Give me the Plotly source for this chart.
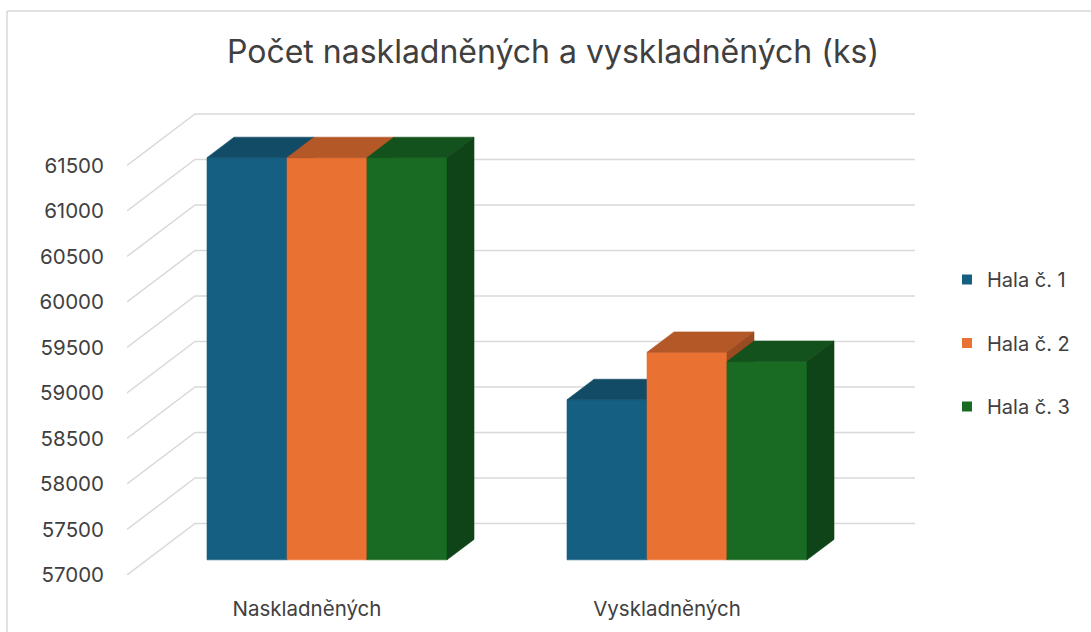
import plotly.graph_objects as go

# ---------------- data ----------------
categories = ["Naskladněných", "Vyskladněných"]
series_names = ["Hala č. 1", "Hala č. 2", "Hala č. 3"]
hala1 = [61420, 58760]
hala2 = [61420, 59280]
hala3 = [61420, 59180]
y_ticks = [57000, 57500, 58000, 58500, 59000, 59500, 60000, 60500, 61000, 61500]
title_text = "Počet naskladněných a vyskladněných (ks)"

values = [hala1, hala2, hala3]
front_cols = ["#156082", "#E97132", "#196B24"]
top_cols = ["#124B65", "#B45828", "#13521C"]
side_cols = ["#0F3E54", "#9B4B22", "#0F4318"]

# ---------------- geometry ----------------
W, H = 1091, 632
L, R, T, B = 127, 915, 106, 575          # plot area in pixels
PX_X = 360.0                              # pixels per category unit
PX_Y = 0.0910                             # pixels per value unit
DXW = 68 / PX_X                           # wall depth offset (x units)
DYW = 51.5 / PX_Y                         # wall depth offset (value units)
YMIN = y_ticks[0]
YMAX = YMIN + (B - T) / PX_Y
XMIN, XMAX = -0.5, len(categories) - 0.5 + DXW

d_front, d_back = 20 / 68, 47 / 68        # bar depth positions (0=front, 1=wall)
group_w = 240 / PX_X
bar_w = group_w / len(series_names)

fig = go.Figure()

# gridlines: diagonal on the left side + horizontal on back wall
gx, gy = [], []
for v in y_ticks:
    gx += [XMIN, XMIN + DXW, XMAX, None]
    gy += [v, v + DYW, v + DYW, None]
fig.add_trace(go.Scatter(x=gx, y=gy, mode="lines", line=dict(color="#D9D9D9", width=1.5),
                         hoverinfo="skip", showlegend=False))

fdx, fdy = d_front * DXW, d_front * DYW
bdx, bdy = d_back * DXW, d_back * DYW

def poly(xs, ys, color):
    fig.add_trace(go.Scatter(x=xs + [xs[0]], y=ys + [ys[0]], mode="lines", fill="toself",
                             fillcolor=color, line=dict(color=color, width=0.6),
                             hoverinfo="skip", showlegend=False))

for ci, cat in enumerate(categories):
    for si in range(len(series_names)):
        v = values[si][ci]
        xl = ci - group_w / 2 + si * bar_w
        xr = xl + bar_w
        # front
        poly([xl + fdx, xr + fdx, xr + fdx, xl + fdx],
             [YMIN + fdy, YMIN + fdy, v + fdy, v + fdy], front_cols[si])
        # top
        poly([xl + fdx, xr + fdx, xr + bdx, xl + bdx],
             [v + fdy, v + fdy, v + bdy, v + bdy], top_cols[si])
        # side
        poly([xr + fdx, xr + fdx, xr + bdx, xr + bdx],
             [YMIN + fdy, v + fdy, v + bdy, YMIN + bdy], side_cols[si])

# legend entries
for si, name in enumerate(series_names):
    fig.add_trace(go.Scatter(x=[None], y=[None], mode="markers", name=name,
                             legendgroup=name,
                             marker=dict(symbol="square", size=10, color=front_cols[si])))

FONT = "Inter"
TXT = "#404040"

def px2paper_x(px):
    return (px - L) / (R - L)

def px2paper_y(py):
    return (B - py) / (B - T)

fig.update_layout(
    width=W, height=H,
    margin=dict(l=L, r=W - R, t=T, b=H - B),
    paper_bgcolor="white", plot_bgcolor="white",
    font=dict(family=FONT, color=TXT, size=20),
    title=dict(text=title_text, x=553 / W, xref="container", xanchor="center",
               y=1 - 52 / H, yanchor="middle", yref="container",
               font=dict(family=FONT, size=32, color=TXT)),
    xaxis=dict(range=[XMIN, XMAX], tickvals=list(range(len(categories))), ticktext=categories,
               showgrid=False, zeroline=False, showline=False, ticks="",
               ticklabelstandoff=19, tickfont=dict(size=20.5, color=TXT), fixedrange=True),
    yaxis=dict(range=[YMIN, YMAX], tickvals=y_ticks, ticktext=[str(t) for t in y_ticks],
               showgrid=False, zeroline=False, showline=False, ticks="",
               ticklabelstandoff=22, tickfont=dict(size=20.5, color=TXT), fixedrange=True),
    legend=dict(x=px2paper_x(947), xanchor="left", y=px2paper_y(260), yanchor="top",
                font=dict(size=20, color=TXT), tracegroupgap=34.5, bgcolor="rgba(0,0,0,0)"),
    shapes=[
        dict(type="line", xref="paper", yref="paper",
             x0=px2paper_x(7), x1=px2paper_x(1091), y0=px2paper_y(11), y1=px2paper_y(11),
             line=dict(color="#D9D9D9", width=1.5)),
        dict(type="line", xref="paper", yref="paper",
             x0=px2paper_x(7), x1=px2paper_x(7), y0=px2paper_y(11), y1=px2paper_y(640),
             line=dict(color="#D9D9D9", width=1.5)),
    ],
    showlegend=True,
)

fig.write_html("out.html", config={"displayModeBar": False},
               post_script="document.body.style.margin='0';document.body.style.padding='0';")
